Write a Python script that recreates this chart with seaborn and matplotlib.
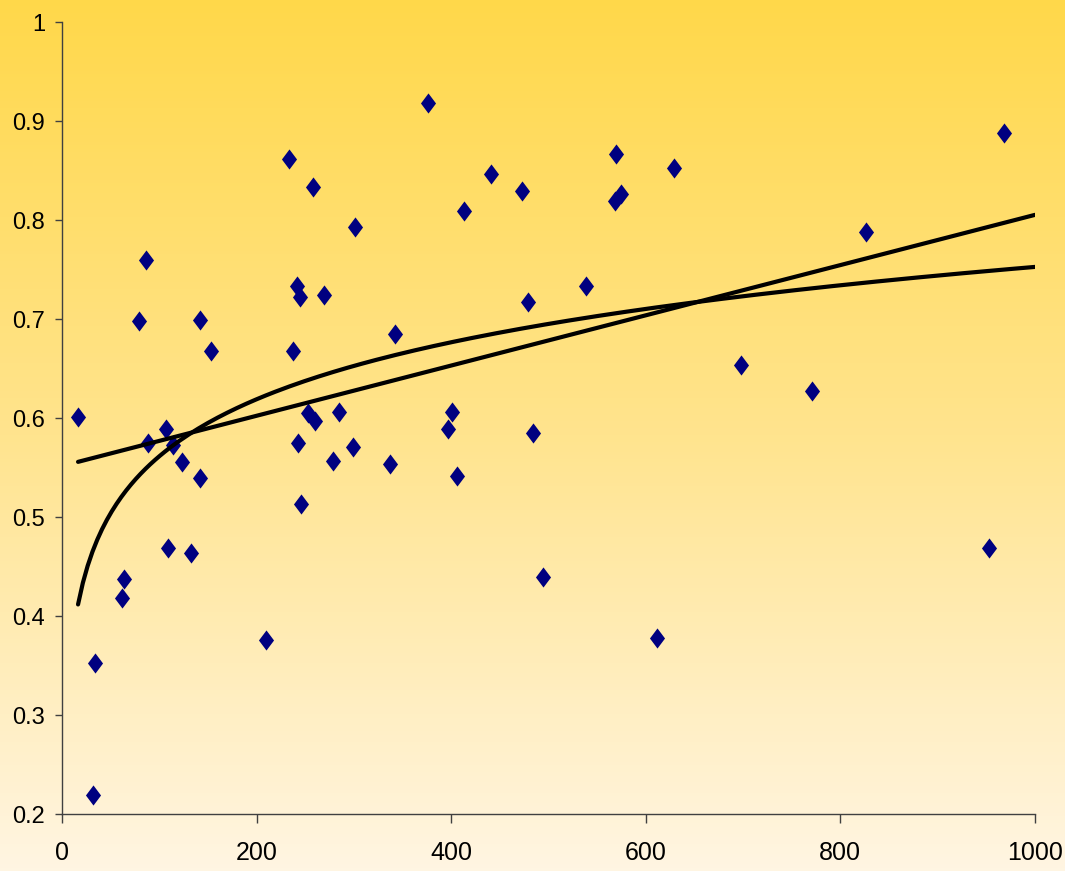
import numpy as np
import matplotlib
matplotlib.use("Agg")
import matplotlib.pyplot as plt
import seaborn as sns
from matplotlib.path import Path
from matplotlib.colors import LinearSegmentedColormap
from matplotlib.ticker import FuncFormatter

# 散点数据
x_vals = [16.5, 34, 32, 62, 64, 79, 86, 88, 107, 109, 114, 123, 133, 142, 142,
          153, 210, 233, 237, 242, 245, 243, 246, 253, 260, 258, 269, 279, 285,
          299, 301, 337, 342, 376, 397, 401, 406, 413, 441, 473, 479, 484, 494,
          539, 568, 575, 569, 612, 629, 698, 771, 826, 953, 968]
y_vals = [0.601, 0.353, 0.219, 0.418, 0.437, 0.698, 0.760, 0.575, 0.589, 0.469,
          0.573, 0.556, 0.464, 0.699, 0.539, 0.668, 0.376, 0.862, 0.668, 0.733,
          0.722, 0.575, 0.513, 0.605, 0.597, 0.833, 0.724, 0.557, 0.606, 0.571,
          0.793, 0.554, 0.685, 0.918, 0.589, 0.606, 0.541, 0.809, 0.847, 0.829,
          0.717, 0.585, 0.439, 0.733, 0.819, 0.826, 0.867, 0.378, 0.853, 0.654,
          0.627, 0.788, 0.469, 0.888]

x_ticks = [0, 200, 400, 600, 800, 1000]
y_ticks = [0.2, 0.3, 0.4, 0.5, 0.6, 0.7, 0.8, 0.9, 1.0]

sns.set_theme(style="white")
plt.rcParams['font.family'] = ['Liberation Sans', 'DejaVu Sans']

fig = plt.figure(figsize=(10.65, 8.71), dpi=100)

# 渐变背景
bg = fig.add_axes([0, 0, 1, 1], zorder=0)
grad = np.linspace(0, 1, 256).reshape(-1, 1)
cmap = LinearSegmentedColormap.from_list('bg', ['#FFD84A', '#FFE48E', '#FFF5E2'])
bg.imshow(grad, aspect='auto', cmap=cmap, extent=[0, 1, 0, 1])
bg.axis('off')

ax = fig.add_axes([0.0582, 0.0654, 0.9136, 0.9093], zorder=1)
ax.patch.set_alpha(0)

x = np.array(x_vals)
y = np.array(y_vals)

# 菱形标记
diamond = Path([(0, 1), (0.75, 0), (0, -1), (-0.75, 0), (0, 1)],
               [Path.MOVETO, Path.LINETO, Path.LINETO, Path.LINETO, Path.CLOSEPOLY])
sns.scatterplot(x=x, y=y, marker=diamond, s=210, color='#000080',
                edgecolor='#000080', linewidth=0, ax=ax, zorder=3)

# 趋势线：线性和对数
x_fit = np.linspace(x.min(), 1000, 200)
lin = np.polyfit(x, y, 1)
logc = np.polyfit(np.log(x), y, 1)
sns.lineplot(x=x_fit, y=np.polyval(lin, x_fit), color='black', lw=3.0, ax=ax, zorder=4)
sns.lineplot(x=x_fit, y=np.polyval(logc, np.log(x_fit)), color='black', lw=3.0, ax=ax, zorder=4)

ax.set_xlim(0, 1000)
ax.set_ylim(0.2, 1.0)
ax.set_xticks(x_ticks)
ax.set_yticks(y_ticks)
ax.yaxis.set_major_formatter(FuncFormatter(lambda v, p: f'{v:g}'))
sns.despine(ax=ax)
for s in ['left', 'bottom']:
    ax.spines[s].set_color('#404040')
    ax.spines[s].set_linewidth(1.0)
ax.tick_params(axis='both', direction='out', color='#404040', width=1.0,
               labelcolor='black', bottom=True, left=True)
ax.tick_params(axis='x', length=6.5, pad=13, labelsize=18)
ax.tick_params(axis='y', length=5, pad=7, labelsize=17)
ax.set_xlabel('')
ax.set_ylabel('')

fig.savefig('out.png', dpi=100)
